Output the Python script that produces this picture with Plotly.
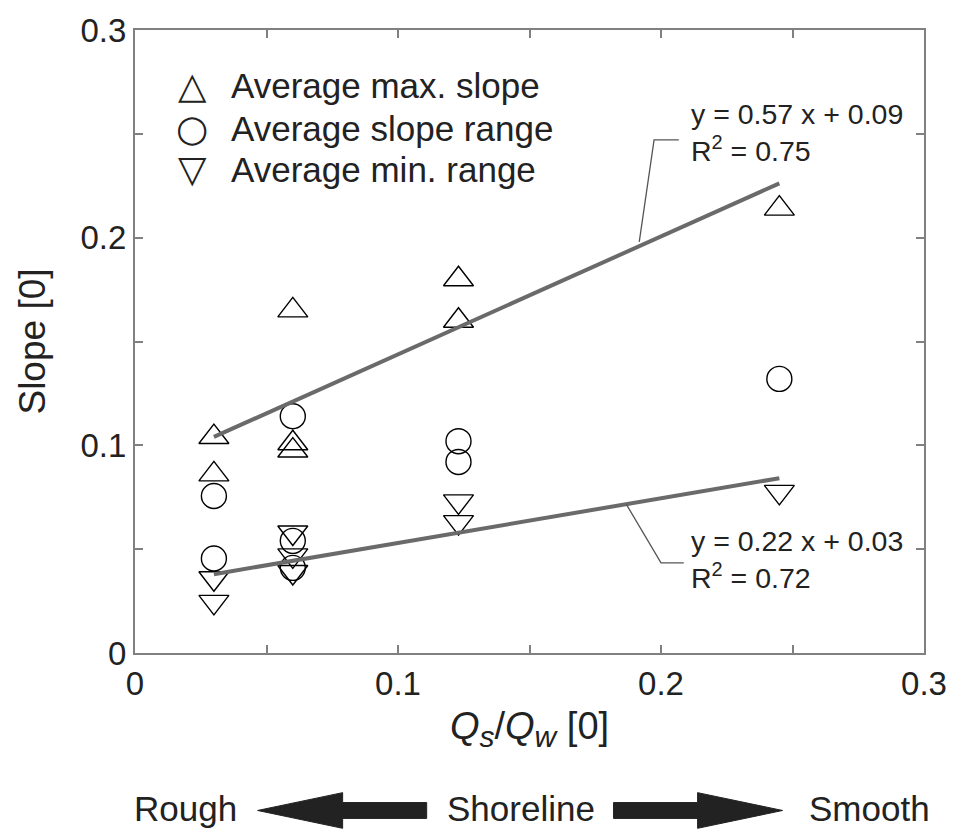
import plotly.graph_objects as go

# ---------------- data ----------------
max_x = [0.03, 0.03, 0.06, 0.06, 0.06, 0.123, 0.123, 0.245]
max_y = [0.104, 0.086, 0.165, 0.101, 0.0975, 0.180, 0.160, 0.214]

rng_x = [0.03, 0.03, 0.06, 0.06, 0.06, 0.123, 0.123, 0.245]
rng_y = [0.0756, 0.0455, 0.114, 0.054, 0.041, 0.102, 0.092, 0.132]

min_x = [0.03, 0.03, 0.06, 0.06, 0.06, 0.123, 0.123, 0.245]
min_y = [0.036, 0.0246, 0.058, 0.047, 0.039, 0.073, 0.063, 0.0776]

fit_x_range = [0.03, 0.245]
fit_max = (0.568, 0.087)   # slope, intercept
fit_min = (0.215, 0.0315)

major_ticks = [0, 0.1, 0.2, 0.3]
major_text = ["0", "0.1", "0.2", "0.3"]
minor_ticks = [0.05, 0.15, 0.25]

legend_names = ["Average max. slope", "Average slope range", "Average min. range"]
legend_symbols = ["\u25B3", "\u25CB", "\u25BD"]

eq_max = "y = 0.57 x + 0.09<br>R<sup>2</sup> = 0.75"
eq_min = "y = 0.22 x + 0.03<br>R<sup>2</sup> = 0.72"

x_title = ("<i>Q<sub><span style='font-size:30px'>s</span></sub></i>/"
           "<i>Q<sub><span style='font-size:30px'>w</span></sub></i> [0]")
y_title = "Slope [0]"

# --------------- layout helpers ---------------
W, H = 959, 832
L, R, T, B = 135, 933, 24, 653


def pxx(x):
    return (x - L) / (R - L)


def pxy(y):
    return (B - y) / (B - T)


FONT = "Liberation Sans, Arial, sans-serif"
TXT = "#222222"
AX = "#808080"

fig = go.Figure()

mk = dict(color="black", line=dict(width=1.4))
fig.add_trace(go.Scatter(x=max_x, y=max_y, mode="markers", name=legend_names[0],
                         marker=dict(symbol="triangle-up-open", size=26, **mk)))
fig.add_trace(go.Scatter(x=rng_x, y=rng_y, mode="markers", name=legend_names[1],
                         marker=dict(symbol="circle-open", size=25, **mk)))
fig.add_trace(go.Scatter(x=min_x, y=min_y, mode="markers", name=legend_names[2],
                         marker=dict(symbol="triangle-down-open", size=26, **mk)))

for (a, b) in (fit_max, fit_min):
    fig.add_trace(go.Scatter(x=fit_x_range, y=[a * v + b for v in fit_x_range],
                             mode="lines", line=dict(color="#6a6a6a", width=4),
                             showlegend=False, hoverinfo="skip"))

shapes = []
# leader lines
shapes.append(dict(type="path", xref="paper", yref="paper",
                   path=f"M {pxx(645)} {pxy(238)} L {pxx(660)} {pxy(135)} L {pxx(685)} {pxy(135)}",
                   line=dict(color="#555555", width=1.3)))
shapes.append(dict(type="path", xref="paper", yref="paper",
                   path=f"M {pxx(632)} {pxy(503)} L {pxx(667)} {pxy(562)} L {pxx(690)} {pxy(562)}",
                   line=dict(color="#555555", width=1.3)))

# bottom arrows
cy = 812
hh, bh = 18, 8


def arrow(tip, head, tail):
    pts = [(tip, cy), (head, cy - hh), (head, cy - bh), (tail, cy - bh),
           (tail, cy + bh), (head, cy + bh), (head, cy + hh)]
    return "M " + " L ".join(f"{pxx(x)} {pxy(y)}" for x, y in pts) + " Z"


for tip, head, tail in ((259, 345, 430), (790, 704, 619)):
    shapes.append(dict(type="path", xref="paper", yref="paper", path=arrow(tip, head, tail),
                       fillcolor="#222222", line=dict(color="#222222", width=1)))

ann = []
# legend
rows = [80, 123, 165]
for sym, name, yy in zip(legend_symbols, legend_names, rows):
    ann.append(dict(x=pxx(193), y=pxy(yy), xref="paper", yref="paper", text=sym,
                    showarrow=False, xanchor="center", yanchor="middle",
                    font=dict(family="DejaVu Sans", size=37, color=TXT)))
    ann.append(dict(x=pxx(230), y=pxy(yy), xref="paper", yref="paper", text=name,
                    showarrow=False, xanchor="left", yanchor="middle",
                    font=dict(family=FONT, size=35, color=TXT)))

# equations
ann.append(dict(x=pxx(695), y=pxy(127), xref="paper", yref="paper", text=eq_max,
                showarrow=False, xanchor="left", yanchor="middle", align="left",
                font=dict(family=FONT, size=28.5, color=TXT)))
ann.append(dict(x=pxx(695), y=pxy(559), xref="paper", yref="paper", text=eq_min,
                showarrow=False, xanchor="left", yanchor="middle", align="left",
                font=dict(family=FONT, size=28.5, color=TXT)))

# bottom labels
for txt, x, anc in (("Rough", 132, "left"), ("Shoreline", 525, "center"), ("Smooth", 941, "right")):
    ann.append(dict(x=pxx(x), y=pxy(810), xref="paper", yref="paper", text=txt,
                    showarrow=False, xanchor=anc, yanchor="middle",
                    font=dict(family=FONT, size=35, color=TXT)))

axis_common = dict(range=[0, 0.3], tickvals=major_ticks, ticktext=major_text,
                   ticks="inside", ticklen=8, tickwidth=2, tickcolor=AX,
                   minor=dict(tickvals=minor_ticks, ticks="inside", ticklen=8,
                              tickwidth=2, tickcolor=AX, showgrid=False),
                   showline=True, linewidth=2, linecolor=AX, mirror="ticks",
                   showgrid=False, zeroline=False,
                   tickfont=dict(family=FONT, size=33, color=TXT))

fig.update_layout(
    width=W, height=H,
    margin=dict(l=L, r=W - R, t=T, b=H - B),
    paper_bgcolor="white", plot_bgcolor="white",
    showlegend=False,
    shapes=shapes, annotations=ann,
    xaxis=dict(**axis_common,
               title=dict(text=x_title,
                          font=dict(family=FONT, size=38, color=TXT), standoff=12)),
    yaxis=dict(**axis_common,
               title=dict(text=y_title, font=dict(family=FONT, size=37, color=TXT),
                          standoff=24)),
)

fig.write_html("out.html")
